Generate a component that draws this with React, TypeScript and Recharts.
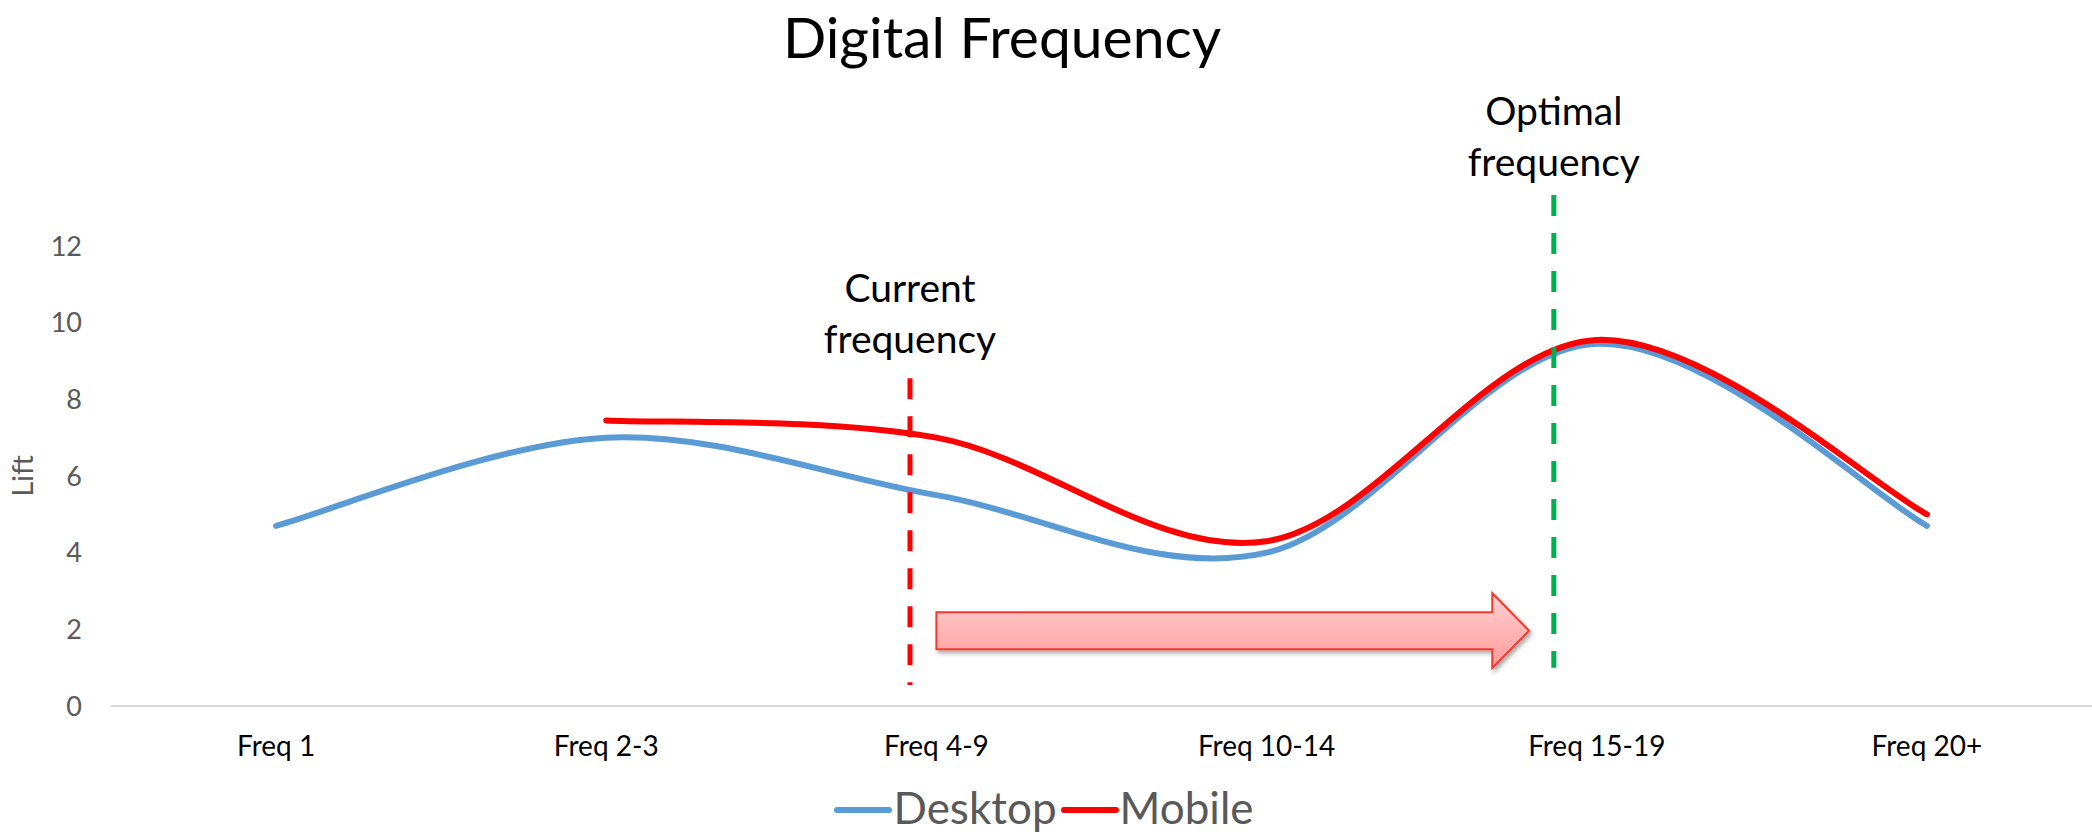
import React from "react";
import { LineChart, Line, XAxis, YAxis, Legend, ReferenceLine, ReferenceArea } from "recharts";

// --- DATA ---
const CATEGORIES = ["Freq 1", "Freq 2-3", "Freq 4-9", "Freq 10-14", "Freq 15-19", "Freq 20+"];
const DESKTOP = [4.7, 7.0, 5.5, 4.0, 9.45, 4.7];
const MOBILE: (number | null)[] = [null, 7.45, 7.0, 4.3, 9.55, 5.0];
const Y_TICKS = [0, 2, 4, 6, 8, 10, 12];

// annotations, in axis units (x = category index)
const CURRENT_LABEL = ["Current", "frequency"];
const OPTIMAL_LABEL = ["Optimal", "frequency"];
const CURRENT_X = 1.92;
const OPTIMAL_X = 3.87;
const ARROW = { x1: 2.0, x2: 3.795, y1: 0.99, y2: 2.94 };

const data = CATEGORIES.map((name, i) => ({ idx: i, name, desktop: DESKTOP[i], mobile: MOBILE[i] }));

const FONT = "Lato, 'Open Sans', sans-serif";

// Excel-ish smoothed line (cardinal bezier)
const smoothCurve = (context: any) => {
    let pts: number[][] = [];
    return {
        areaStart() {},
        areaEnd() {},
        lineStart() {
            pts = [];
        },
        point(x: number, y: number) {
            pts.push([+x, +y]);
        },
        lineEnd() {
            const n = pts.length;
            if (!n) return;
            context.moveTo(pts[0][0], pts[0][1]);
            const t = 1 / 6;
            for (let i = 0; i < n - 1; i++) {
                const p0 = pts[Math.max(i - 1, 0)];
                const p1 = pts[i];
                const p2 = pts[i + 1];
                const p3 = pts[Math.min(i + 2, n - 1)];
                context.bezierCurveTo(
                    p1[0] + (p2[0] - p0[0]) * t,
                    p1[1] + (p2[1] - p0[1]) * t,
                    p2[0] - (p3[0] - p1[0]) * t,
                    p2[1] - (p3[1] - p1[1]) * t,
                    p2[0],
                    p2[1]
                );
            }
        },
    };
};

function AnnotationText(props: any) {
    const { viewBox, lines, gap } = props;
    if (!viewBox) return null;
    const cx = viewBox.x;
    const base = viewBox.y - gap;
    return (
        <text x={cx} y={base} textAnchor="middle" fontFamily={FONT} fontSize={39} fill="#000">
            <tspan x={cx} y={base - 51}>{lines[0]}</tspan>
            <tspan x={cx} y={base}>{lines[1]}</tspan>
        </text>
    );
}

function ArrowShape(props: any) {
    const { x, y, width: w, height: h } = props;
    const head = w * 0.062;
    const bTop = y + h * 0.253;
    const bBot = y + h * 0.747;
    const bx = x + w - head;
    const d = `M${x},${bTop} L${bx},${bTop} L${bx},${y} L${x + w},${y + h / 2} L${bx},${y + h} L${bx},${bBot} L${x},${bBot} Z`;
    return (
        <g>
            <defs>
                <linearGradient id="arrowFill" x1="0" y1="0" x2="0" y2="1">
                    <stop offset="0%" stopColor="#ffd0d0" />
                    <stop offset="100%" stopColor="#ff9b9b" />
                </linearGradient>
                <filter id="arrowShadow" x="-5%" y="-30%" width="110%" height="160%">
                    <feDropShadow dx="2" dy="3" stdDeviation="2" floodColor="#000" floodOpacity="0.35" />
                </filter>
            </defs>
            <path d={d} fill="url(#arrowFill)" stroke="#f23a2e" strokeWidth={2} filter="url(#arrowShadow)" />
        </g>
    );
}

function LegendContent() {
    const item = (color: string, label: string) => (
        <div style={{ display: "flex", alignItems: "center", marginRight: 4 }}>
            <div style={{ width: 58, height: 6, background: color, borderRadius: 3, position: "relative", top: 3 }} />
            <span style={{ marginLeft: 1 }}>{label}</span>
        </div>
    );
    return (
        <div
            style={{
                display: "flex",
                justifyContent: "center",
                alignItems: "center",
                height: 50,
                marginTop: -4,
                fontFamily: FONT,
                fontSize: 44,
                color: "#595959",
                lineHeight: 1,
            }}
        >
            {item("#5b9bd5", "Desktop")}
            {item("#ff0000", "Mobile")}
        </div>
    );
}

export default function App() {
    return (
        <div style={{ position: "absolute", left: 0, top: 0, width: 2092, height: 836, background: "#fff", overflow: "hidden" }}>
            <div
                style={{
                    position: "absolute",
                    left: 0,
                    width: 2004,
                    top: 4,
                    textAlign: "center",
                    fontFamily: FONT,
                    fontSize: 57,
                    lineHeight: "64px",
                    color: "#000",
                }}
            >
                Digital Frequency
            </div>
            <LineChart width={2092} height={836} data={data} margin={{ top: 246, right: 0, bottom: 0, left: 0 }}>
                <XAxis
                    dataKey="idx"
                    type="number"
                    domain={[-0.5, 5.5]}
                    ticks={[0, 1, 2, 3, 4, 5]}
                    tickFormatter={(v: number) => CATEGORIES[v]}
                    height={80}
                    tickSize={0}
                    tickMargin={30}
                    axisLine={{ stroke: "#d9d9d9", strokeWidth: 2 }}
                    tick={{ fontFamily: FONT, fontSize: 28, fill: "#000" }}
                />
                <YAxis
                    domain={[0, 12]}
                    ticks={Y_TICKS}
                    width={111}
                    axisLine={false}
                    tickLine={false}
                    tickSize={0}
                    tickMargin={29}
                    tick={{ fontFamily: FONT, fontSize: 27, fill: "#595959" }}
                    label={{
                        content: (p: any) => {
                            const vb = p.viewBox;
                            const cx = 21;
                            const cy = vb.y + vb.height / 2;
                            return (
                                <text
                                    x={cx}
                                    y={cy}
                                    transform={`rotate(-90 ${cx} ${cy})`}
                                    textAnchor="middle"
                                    dominantBaseline="central"
                                    fontFamily={FONT}
                                    fontSize={29}
                                    fill="#595959"
                                >
                                    Lift
                                </text>
                            );
                        },
                    }}
                />
                <Legend verticalAlign="bottom" height={50} content={() => <LegendContent />} />
                <Line
                    dataKey="desktop"
                    name="Desktop"
                    type={smoothCurve as any}
                    stroke="#5b9bd5"
                    strokeWidth={6}
                    strokeLinecap="round"
                    dot={false}
                    activeDot={false}
                    isAnimationActive={false}
                />
                <Line
                    dataKey="mobile"
                    name="Mobile"
                    type={smoothCurve as any}
                    stroke="#ff0000"
                    strokeWidth={6}
                    strokeLinecap="round"
                    dot={false}
                    activeDot={false}
                    isAnimationActive={false}
                />
                <ReferenceLine
                    segment={[
                        { x: CURRENT_X, y: 8.55 },
                        { x: CURRENT_X, y: 0.55 },
                    ]}
                    stroke="#ff0000"
                    strokeWidth={5}
                    strokeDasharray="21 17"
                    ifOverflow="visible"
                    label={<AnnotationText lines={CURRENT_LABEL} gap={25} />}
                />
                <ReferenceLine
                    segment={[
                        { x: OPTIMAL_X, y: 13.33 },
                        { x: OPTIMAL_X, y: 1.0 },
                    ]}
                    stroke="#00b050"
                    strokeWidth={5}
                    strokeDasharray="21 17"
                    ifOverflow="visible"
                    label={<AnnotationText lines={OPTIMAL_LABEL} gap={19} />}
                />
                <ReferenceArea
                    x1={ARROW.x1}
                    x2={ARROW.x2}
                    y1={ARROW.y1}
                    y2={ARROW.y2}
                    ifOverflow="visible"
                    shape={(p: any) => <ArrowShape {...p} />}
                />
            </LineChart>
        </div>
    );
}
